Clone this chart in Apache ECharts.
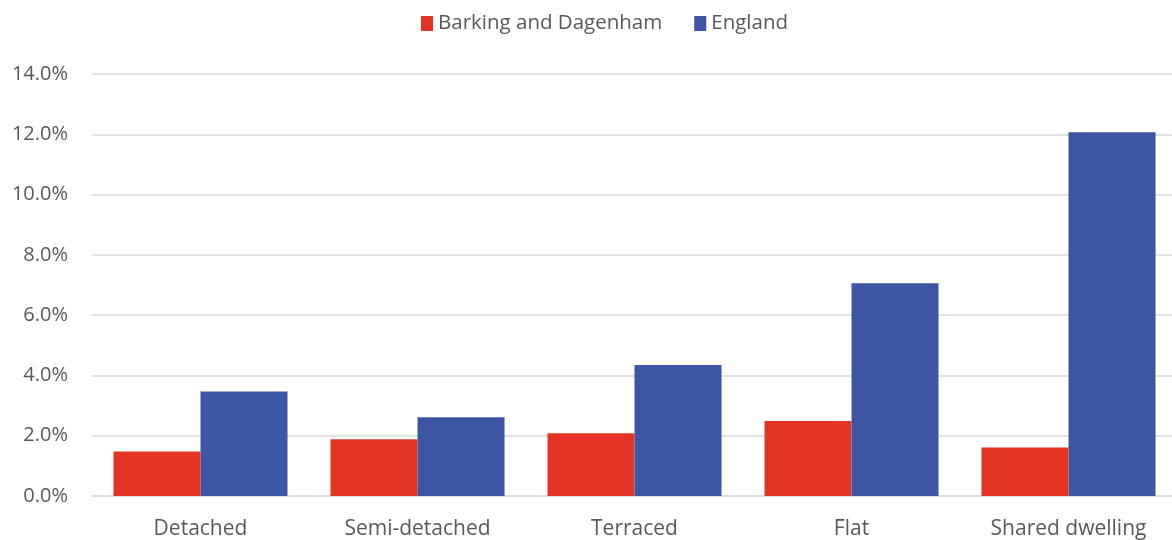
<!DOCTYPE html>
<html><head><meta charset="utf-8">
<script src="https://cdn.jsdelivr.net/npm/echarts@6/dist/echarts.min.js"></script>
<style>html,body{margin:0;padding:0;background:#fff}#c{width:1172px;height:540px}</style>
</head><body><div id="c"></div>
<script>
const categories = ['Detached', 'Semi-detached', 'Terraced', 'Flat', 'Shared dwelling'];
const barkingValues = [1.48, 1.88, 2.08, 2.49, 1.61];
const englandValues = [3.47, 2.61, 4.35, 7.06, 12.07];
const seriesNames = ['Barking and Dagenham', 'England'];
const yTicks = { min: 0, max: 14, interval: 2 };

const chart = echarts.init(document.getElementById('c'));
const font = '"Open Sans", "Liberation Sans", sans-serif';
chart.setOption({
  animation: false,
  legend: {
    top: 8, left: 416, itemWidth: 12, itemHeight: 15, itemGap: 32,
    icon: 'rect',
    textStyle: { fontFamily: font, fontSize: 20.5, color: '#595959' },
    data: seriesNames
  },
  grid: { left: 92, width: 1085, top: 74, bottom: 44, containLabel: false, outerBoundsMode: 'none' },
  xAxis: {
    type: 'category', data: categories,
    axisLine: { show: true, lineStyle: { color: '#d9d9d9', width: 1.5 } },
    axisTick: { show: false },
    axisLabel: { fontFamily: font, fontSize: 21, color: '#595959', margin: 23 }
  },
  yAxis: {
    type: 'value', min: yTicks.min, max: yTicks.max, interval: yTicks.interval,
    axisLine: { show: false }, axisTick: { show: false },
    splitLine: { lineStyle: { color: '#d9d9d9', width: 1.5 } },
    axisLabel: { fontFamily: font, fontSize: 20, color: '#595959', margin: 24,
      formatter: v => v.toFixed(1) + '%' }
  },
  series: [
    { name: seriesNames[0], type: 'bar', data: barkingValues, barGap: '0%', barCategoryGap: '19.8%',
      itemStyle: { color: '#E33424' } },
    { name: seriesNames[1], type: 'bar', data: englandValues, barGap: '0%', barCategoryGap: '19.8%',
      itemStyle: { color: '#3C56A3' } }
  ]
});
</script></body></html>
